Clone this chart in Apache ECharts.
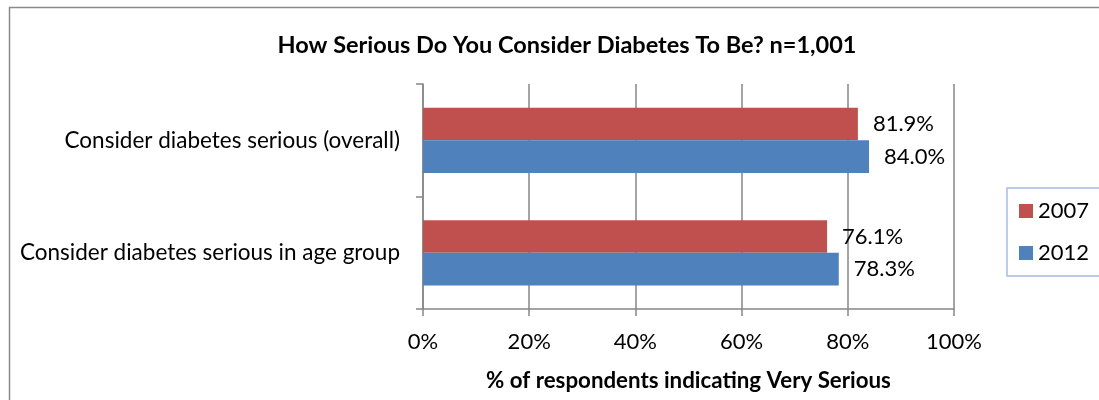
<!DOCTYPE html>
<html>
<head>
<meta charset="utf-8">
<script src="https://cdn.jsdelivr.net/npm/echarts@6/dist/echarts.min.js"></script>
<style>
  html, body { margin: 0; padding: 0; background: #ffffff; }
  #chart { width: 1099px; height: 400px; }
</style>
</head>
<body>
<div id="chart"></div>
<script>
// Survey answers, share of respondents saying "Very Serious"
const categories = ['Consider diabetes serious (overall)', 'Consider diabetes serious in age group'];
const seriesNames = ['2007', '2012'];
const values2007 = [81.9, 76.1];
const values2012 = [84.0, 78.3];
const xTicks = [0, 20, 40, 60, 80, 100];

const titleText = 'How Serious Do You Consider Diabetes To Be? n=1,001';
const xAxisName = '% of respondents indicating Very Serious';

const FONT = 'Lato';
const RED = '#C0504D';
const BLUE = '#4F81BD';
const AXIS_GREY = '#868686';

const chart = echarts.init(document.getElementById('chart'), null, { renderer: 'canvas' });

const barLabel = {
  show: true,
  position: 'right',
  distance: 15,
  color: '#000000',
  fontFamily: FONT,
  fontSize: 22,
  formatter: p => p.value.toFixed(1) + '%'
};

chart.setOption({
  animation: false,
  backgroundColor: '#ffffff',
  graphic: [
    {
      type: 'rect',
      silent: true,
      shape: { x: 9.5, y: 7.5, width: 1200, height: 500 },
      style: { fill: 'none', stroke: '#8a8a8a', lineWidth: 1.5 }
    },
    {
      type: 'text',
      silent: true,
      x: 567,
      y: 45,
      style: {
        text: titleText,
        fontFamily: FONT,
        fontWeight: 'bold',
        fontSize: 23.5,
        fill: '#000000',
        textAlign: 'center',
        textVerticalAlign: 'middle'
      }
    }
  ],
  legend: {
    orient: 'vertical',
    left: 1007,
    top: 188,
    padding: [12, 11, 12, 12],
    itemGap: 20,
    itemWidth: 14,
    itemHeight: 14,
    icon: 'rect',
    borderColor: '#A7BEDF',
    borderWidth: 1.5,
    textStyle: { fontFamily: FONT, fontSize: 22, color: '#000000', padding: [0, 0, 0, 0] },
    data: seriesNames
  },
  grid: { left: 423, right: 145, top: 84, bottom: 91, containLabel: false },
  xAxis: {
    type: 'value',
    min: xTicks[0],
    max: xTicks[xTicks.length - 1],
    interval: xTicks[1] - xTicks[0],
    name: xAxisName,
    nameLocation: 'middle',
    nameGap: 61,
    nameTextStyle: { fontFamily: FONT, fontWeight: 'bold', fontSize: 22.3, color: '#000000' },
    axisLine: { show: true, lineStyle: { color: AXIS_GREY, width: 1.5 } },
    axisTick: { show: true, length: 7, lineStyle: { color: AXIS_GREY, width: 1.5 } },
    axisLabel: { margin: 22, fontFamily: FONT, fontSize: 22, color: '#000000', formatter: v => v + '%' },
    splitLine: { show: true, lineStyle: { color: AXIS_GREY, width: 1.5 } }
  },
  yAxis: {
    type: 'category',
    inverse: true,
    data: categories,
    axisLine: { show: true, lineStyle: { color: AXIS_GREY, width: 1.5 } },
    axisTick: { show: true, length: 7, lineStyle: { color: AXIS_GREY, width: 1.5 } },
    axisLabel: { margin: 23, fontFamily: FONT, fontSize: 22.5, color: '#000000' },
    splitLine: { show: false }
  },
  series: [
    {
      name: seriesNames[0],
      type: 'bar',
      data: values2007,
      itemStyle: { color: RED },
      barGap: '0%',
      barCategoryGap: '42%',
      label: barLabel
    },
    {
      name: seriesNames[1],
      type: 'bar',
      data: values2012,
      itemStyle: { color: BLUE },
      barGap: '0%',
      barCategoryGap: '42%',
      label: barLabel
    }
  ]
});
</script>
</body>
</html>
